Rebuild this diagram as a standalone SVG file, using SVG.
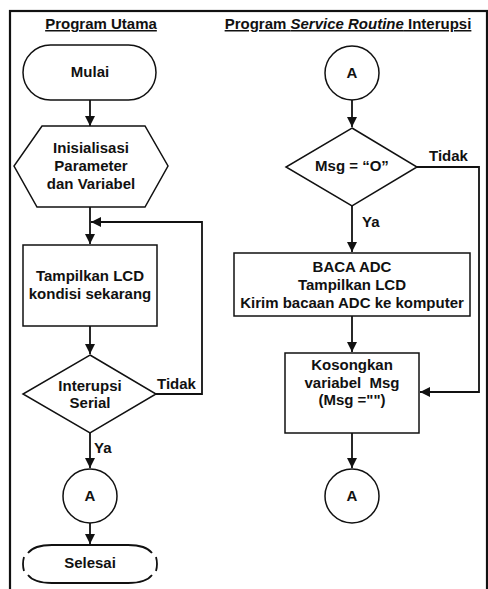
<svg xmlns="http://www.w3.org/2000/svg" width="488" height="589" viewBox="0 0 488 589">
<style>
text{font-family:"Liberation Sans",Arial,sans-serif;font-weight:bold;font-size:15px;fill:#111;text-anchor:middle}
.s{text-anchor:start}
.shape{fill:#fff;stroke:#111;stroke-width:1.5}
.ln{fill:none;stroke:#111;stroke-width:1.8}
.t{text-decoration:underline}
</style>
<defs>
<marker id="ah" viewBox="0 0 10 10" refX="10" refY="5" markerWidth="10" markerHeight="10" markerUnits="userSpaceOnUse" orient="auto">
<path d="M0,0 L10,5 L0,10 Z" fill="#111"/>
</marker>
</defs>
<rect x="10" y="11" width="477" height="590" fill="#fff" stroke="#111" stroke-width="2.2"/>
<text class="t" x="101" y="29">Program Utama</text>
<text class="t" x="348" y="29">Program <tspan font-style="italic">Service Routine</tspan> Interupsi</text>

<g id="connectors">
<path class="ln" d="M90,100 V126" marker-end="url(#ah)"/>
<path class="ln" d="M90,207 V244" marker-end="url(#ah)"/>
<path class="ln" d="M156,394 H202 V222 H91" marker-end="url(#ah)"/>
<path class="ln" d="M90,326 V354" marker-end="url(#ah)"/>
<path class="ln" d="M90,433 V468" marker-end="url(#ah)"/>
<path class="ln" d="M90,523 V544" marker-end="url(#ah)"/>
<path class="ln" d="M352,100 V127" marker-end="url(#ah)"/>
<path class="ln" d="M352,206 V252" marker-end="url(#ah)"/>
<path class="ln" d="M417,167 H479 V392 H420" marker-end="url(#ah)"/>
<path class="ln" d="M352,316 V352" marker-end="url(#ah)"/>
<path class="ln" d="M352,433 V468" marker-end="url(#ah)"/>
<text class="s" x="157" y="389">Tidak</text>
<text class="s" x="94" y="453">Ya</text>
<text class="s" x="429" y="161">Tidak</text>
<text class="s" x="362" y="227">Ya</text>
</g>

<g id="mulai">
<rect class="shape" x="23" y="45" width="133" height="55" rx="27.5"/>
<text x="90" y="77">Mulai</text>
</g>
<g id="inisialisasi">
<polygon class="shape" points="42,126 145,126 168,166 145,207 37,207 14,166"/>
<text x="91" y="153">Inisialisasi</text>
<text x="91" y="171">Parameter</text>
<text x="91" y="189">dan Variabel</text>
</g>
<g id="tampilkan">
<rect class="shape" x="23" y="245" width="134" height="81"/>
<text x="90" y="281">Tampilkan LCD</text>
<text x="90" y="299">kondisi sekarang</text>
</g>
<g id="interupsi">
<polygon class="shape" points="90,355 156,394 90,433 23,394"/>
<text x="90" y="391">Interupsi</text>
<text x="90" y="408">Serial</text>
</g>
<g id="a-left">
<circle class="shape" cx="90" cy="496" r="27"/>
<text x="90" y="501">A</text>
</g>
<g id="selesai">
<path class="ln" stroke-width="1.5" d="M28,553 Q34,545 52,545 L128,545 Q146,545 152,553"/>
<path class="ln" stroke-width="1.5" d="M28,575 Q34,583 52,583 L128,583 Q146,583 152,575"/>
<path class="ln" stroke-width="1.5" d="M24,557 Q22,564 24,571"/>
<path class="ln" stroke-width="1.5" d="M156,557 Q158,564 156,571"/>
<text x="90" y="568">Selesai</text>
</g>
<g id="a-top">
<circle class="shape" cx="352" cy="73" r="27"/>
<text x="352" y="78">A</text>
</g>
<g id="msg">
<polygon class="shape" points="352,128 417,167 352,206 286,167"/>
<text x="352" y="171">Msg = “O”</text>
</g>
<g id="baca">
<rect class="shape" x="234" y="253" width="236" height="63"/>
<text x="352" y="272">BACA ADC</text>
<text x="352" y="290">Tampilkan LCD</text>
<text x="352" y="308">Kirim bacaan ADC ke komputer</text>
</g>
<g id="kosongkan">
<rect class="shape" x="285" y="353" width="134" height="80"/>
<text x="352" y="370">Kosongkan</text>
<text x="352" y="388" xml:space="preserve">variabel  Msg</text>
<text x="352" y="405">(Msg ="")</text>
</g>
<g id="a-bottom">
<circle class="shape" cx="352" cy="496" r="27"/>
<text x="352" y="501">A</text>
</g>
</svg>
